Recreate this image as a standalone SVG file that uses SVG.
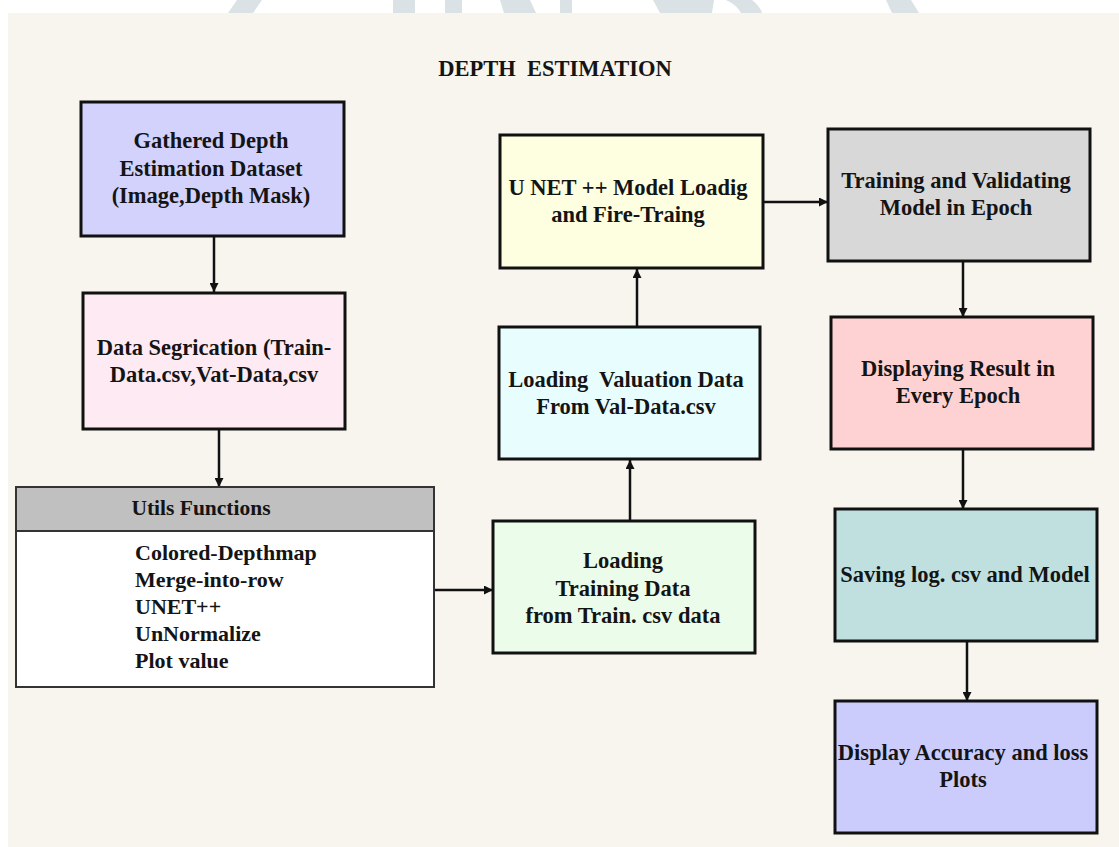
<svg xmlns="http://www.w3.org/2000/svg" width="1119" height="847" viewBox="0 0 1119 847">
<style>
  .box { stroke: #111; stroke-width: 3; }
  .t { font-family: "Liberation Serif", "Times New Roman", serif; font-weight: bold; font-size: 22.5px; fill: #141414; text-anchor: middle; }
  .tl { font-family: "Liberation Serif", "Times New Roman", serif; font-weight: bold; font-size: 22px; fill: #141414; }
  .conn { stroke: #111; stroke-width: 2.5; fill: none; marker-end: url(#arr); }
  .wm { fill: #dbe2e6; }
</style>
<defs>
  <marker id="arr" viewBox="0 0 10 10" refX="10" refY="5" markerWidth="9" markerHeight="9" markerUnits="userSpaceOnUse" orient="auto">
    <path d="M0,0 L10,5 L0,10 z" fill="#111"/>
  </marker>
</defs>
<rect x="0" y="0" width="1119" height="847" fill="#ffffff"/>
<g id="watermark">
  <polygon class="wm" points="237,0 262,0 253,13 228,13"/>
  <rect class="wm" x="393" y="0" width="22" height="13"/>
  <rect class="wm" x="445" y="0" width="17" height="13"/>
  <polygon class="wm" points="500,0 530,0 536,13 504,13"/>
  <rect class="wm" x="560" y="0" width="12" height="13"/>
  <polygon class="wm" points="653,0 714,0 712,13 660,13"/>
  <path class="wm" d="M726,0 L752,0 Q760,6 762,13 L741,13 Q737,5 726,0 z"/>
  <polygon class="wm" points="886,0 911,0 919,13 892,13"/>
</g>
<rect x="8" y="13" width="1111" height="834" fill="#f8f5ef"/>
<text class="t" x="555" y="76" xml:space="preserve">DEPTH  ESTIMATION</text>

<g id="connectors">
  <line class="conn" x1="214" y1="237" x2="214" y2="292"/>
  <line class="conn" x1="219" y1="430" x2="219" y2="487"/>
  <line class="conn" x1="434" y1="590" x2="493" y2="590"/>
  <line class="conn" x1="630" y1="521" x2="630" y2="460"/>
  <line class="conn" x1="637" y1="327" x2="637" y2="269"/>
  <line class="conn" x1="764" y1="202" x2="828" y2="202"/>
  <line class="conn" x1="963" y1="262" x2="963" y2="317"/>
  <line class="conn" x1="963" y1="450" x2="963" y2="509"/>
  <line class="conn" x1="967" y1="642" x2="967" y2="701"/>
</g>

<g id="gathered">
  <rect class="box" x="81" y="102" width="263" height="134" fill="#d2d2fc"/>
  <text class="t" x="211" y="148">Gathered Depth</text>
  <text class="t" x="211" y="176">Estimation Dataset</text>
  <text class="t" x="211" y="203">(Image,Depth Mask)</text>
</g>

<g id="segregation">
  <rect class="box" x="83" y="293" width="262" height="136" fill="#fdeaf2"/>
  <text class="t" x="214" y="355">Data Segrication (Train-</text>
  <text class="t" x="214" y="382">Data.csv,Vat-Data,csv</text>
</g>

<g id="utils">
  <rect x="16" y="487" width="418" height="200" fill="#ffffff" stroke="#333" stroke-width="2"/>
  <rect x="16" y="487" width="418" height="44" fill="#c0c0c0" stroke="#333" stroke-width="2"/>
  <text class="t" x="201" y="515" style="font-size:21.5px">Utils Functions</text>
  <text class="tl" x="135" y="560">Colored-Depthmap</text>
  <text class="tl" x="135" y="587">Merge-into-row</text>
  <text class="tl" x="135" y="614">UNET++</text>
  <text class="tl" x="135" y="641">UnNormalize</text>
  <text class="tl" x="135" y="668">Plot value</text>
</g>

<g id="training-data">
  <rect class="box" x="493" y="521" width="262" height="132" fill="#ebfcea"/>
  <text class="t" x="623" y="568">Loading</text>
  <text class="t" x="623" y="596">Training Data</text>
  <text class="t" x="623" y="623">from Train. csv data</text>
</g>

<g id="valuation-data">
  <rect class="box" x="499" y="327" width="261" height="132" fill="#e8fefe"/>
  <text class="t" x="626" y="387" xml:space="preserve">Loading  Valuation Data</text>
  <text class="t" x="626" y="414">From Val-Data.csv</text>
</g>

<g id="unet">
  <rect class="box" x="500" y="135" width="263" height="133" fill="#fefee0"/>
  <text class="t" x="628" y="195">U NET ++ Model Loadig</text>
  <text class="t" x="628" y="222">and Fire-Traing</text>
</g>

<g id="train-validate">
  <rect class="box" x="828" y="129" width="262" height="132" fill="#d8d8d8"/>
  <text class="t" x="956" y="188">Training and Validating</text>
  <text class="t" x="956" y="215">Model in Epoch</text>
</g>

<g id="display-result">
  <rect class="box" x="831" y="317" width="262" height="132" fill="#fed2d2"/>
  <text class="t" x="958" y="376">Displaying Result in</text>
  <text class="t" x="958" y="403">Every Epoch</text>
</g>

<g id="saving">
  <rect class="box" x="835" y="509" width="262" height="132" fill="#c0e0e0"/>
  <text class="t" x="965" y="582">Saving log. csv and Model</text>
</g>

<g id="display-accuracy">
  <rect class="box" x="835" y="701" width="262" height="132" fill="#ccccfc"/>
  <text class="t" x="963" y="760">Display Accuracy and loss</text>
  <text class="t" x="963" y="787">Plots</text>
</g>
</svg>
